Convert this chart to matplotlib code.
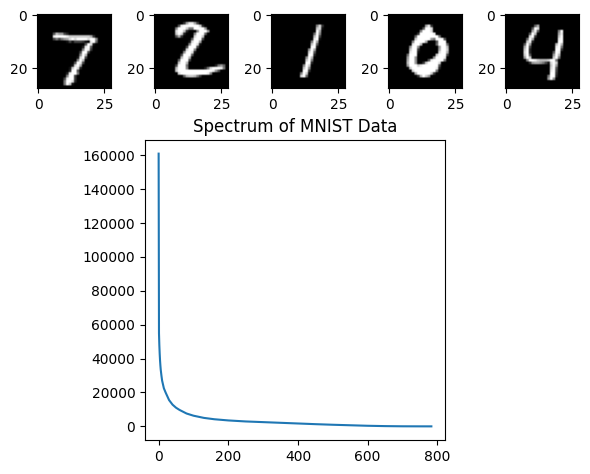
import matplotlib
matplotlib.use("Agg")
import matplotlib.pyplot as plt
import numpy as np

# digit images, one hex char per pixel ('.' = black, f = white), short rows get padded
seven = [""] * 7 + [
    "......5b9942",
    "......effffecccccccca3",
    "......47479adfdffffdff8",
    "...........14144431.ef6",
    "..................5fd1",
    ".................2ef5",
    ".................8fe3",
    "................4ff4",
    "................8fb",
    "...............1df4",
    "...............8fb",
    "..............5fe4",
    ".............1dfa",
    "............1cfd2",
    "............2ff5",
    "...........2eff7",
    "...........8ff3",
    "..........4eff3",
    "..........7ffd2",
    "..........7fc1",
]
two = [""] * 3 + [
    "...........3aeea4",
    ".........5effffffc2",
    "........8fffc77ffff9",
    "........dffb2...8fff9",
    "........cfd2...8fff6",
    "........5a3....dffc",
    "..............6fff4",
    ".............1dffa",
    ".............8ffd1",
    "............4fff4",
    "...........1dff8",
    "...........9ffd1",
    "..........4fff5",
    "..........bffb",
    ".........6fff4",
    ".........cffb",
    "........4fff7..........2796",
    "........bfff8......27dfffe7",
    "........cfffffffffffffe95",
    ".........dffffffffffe8",
    "...........6bccb73",
]
one = [""] * 4 + [
    ".................8d3",
    ".................cd1",
    ".................fa",
    "................6f8",
    "................bf4",
    "................ef1",
    "...............7fa",
    "...............cf5",
    "...............ff1",
    "..............9fa",
    "..............df5",
    "..............ff2",
    ".............8fb",
    ".............cf7",
    ".............ff2",
    "............8fc",
    "............cf8",
    "............ff3",
    "...........8fc",
    "...........df6",
]
zero = [""] * 4 + [
    "..............ae3",
    ".............5ffd",
    "............8fffd",
    "...........3fffffe",
    "..........6ffffffff7",
    "..........cfffff97fff5",
    ".........8ffffa...5fff",
    ".........effb.....6fff6",
    "........9ff8.......9ffb",
    "........cff3.......affc",
    "........eff1.......dffa",
    ".......6fff.......cfff4",
    ".......9ff9......9fffe",
    ".......aff9....5effff7",
    ".......bff9..3cffffd",
    ".......9fffceffffff5",
    "........cfffffffffe2",
    ".........dffffffff7",
    "..........afffffc3",
    "...........3bfc9",
]
four = [""] * 4 + [
    "...........6a",
    "..........5fd",
    "..........ae5.......8f",
    ".........5fb........ae",
    ".........df3........cf",
    "........6fa.........ef",
    "........ce2.........ff",
    ".......5f9.........bfb",
    ".......af4.........ef7",
    ".......cf2.........ff3",
    ".......df2........5fe",
    ".......cf5........9fb",
    ".......9fc........cf7",
    "........8ffecbbbcff7",
    ".........39aa9741dfc",
    ".................cf9",
    ".................df5",
    ".................ef4",
    ".................ff3",
    "................7ff2",
    "................9f9",
]
digits = [seven, two, one, zero, four]

# spectrum
rank = [0, 1, 2, 3, 4, 5, 6, 8, 10, 15, 20, 30, 40, 50, 60, 80, 100, 130, 160,
        200, 250, 300, 350, 400, 450, 500, 550, 600, 650, 700, 750, 783]
spectrum = [161000, 55000, 48000, 43000, 39000, 36000, 33500, 30000, 27000,
            22500, 20000, 15500, 12800, 11000, 9700, 7600, 6300, 5000, 4200,
            3500, 2900, 2500, 2100, 1700, 1300, 950, 650, 350, 150, 40, 10, 0]

W, H = 590, 474
top_left = [37, 154, 271, 388, 505]


def toImage(rows):
    rows = rows + [""] * (28 - len(rows))
    return np.array([[0 if c == "." else int(c, 16) * 17
                      for c in r.ljust(28, ".")[:28]] for r in rows])


fig = plt.figure(figsize=(W / 100, H / 100), dpi=100)

for left, rows in zip(top_left, digits):
    ax = fig.add_axes([left / W, (H - 88) / H, 74 / W, 74 / H])
    ax.imshow(toImage(rows), cmap="gray")

ax = fig.add_axes([145 / W, (H - 440) / H, 300 / W, 300 / H])
ax.plot(rank, spectrum)
ax.set_title("Spectrum of MNIST Data")

fig.savefig("out.png", dpi=100)
